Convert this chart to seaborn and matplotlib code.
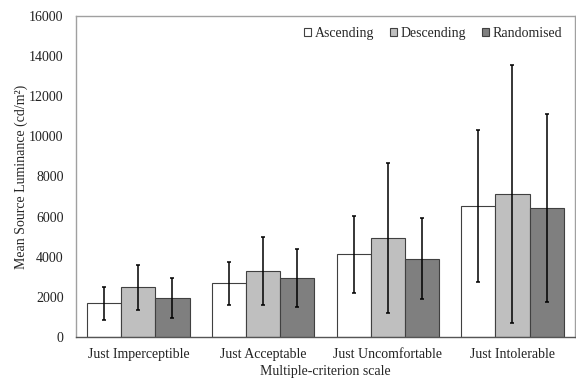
import seaborn as sns
import numpy as np
import pandas as pd
import matplotlib.pyplot as plt

# Mean source luminance per scale level and presentation order
scale = ["Just Imperceptible", "Just Acceptable", "Just Uncomfortable", "Just Intolerable"]
orders = ["Ascending", "Descending", "Randomised"]

ascending = [1680, 2675, 4120, 6530]
descending = [2475, 3305, 4935, 7113]
randomised = [1960, 2940, 3905, 6415]

ascending_sd = [830, 1060, 1920, 3790]
descending_sd = [1130, 1700, 3730, 6430]
randomised_sd = [1000, 1430, 2020, 4690]

means = [ascending, descending, randomised]
sds = [ascending_sd, descending_sd, randomised_sd]

df = pd.DataFrame({
    "scale": scale * 3,
    "order": np.repeat(orders, len(scale)),
    "value": np.concatenate(means),
})

sns.set_style("white")
plt.rcParams["font.family"] = ["Liberation Serif", "DejaVu Serif"]

fig = plt.figure(figsize=(5.76, 3.78), dpi=100)
ax = fig.add_axes([0.132, 0.1085, 0.866, 0.8495])

palette = {"Ascending": "#ffffff", "Descending": "#bfbfbf", "Randomised": "#7f7f7f"}
sns.barplot(data=df, x="scale", y="value", hue="order", order=scale,
            hue_order=orders, palette=palette, errorbar=None,
            width=0.82, edgecolor="#404040", linewidth=0.8, ax=ax)

# Error bars (standard deviation) at each bar centre
for cont, sd in zip(ax.containers, sds):
    xs = [p.get_x() + p.get_width() / 2 for p in cont.patches]
    ys = [p.get_height() for p in cont.patches]
    ax.errorbar(xs, ys, yerr=sd, fmt="none", ecolor="black",
                elinewidth=1.1, capsize=1.5, capthick=1.1, zorder=5)

ax.set_ylim(0, 16000)
ax.set_yticks(np.arange(0, 16001, 2000))
ax.set_xlim(-0.5, 3.5)
ax.tick_params(axis="both", labelsize=10, length=0, colors="#222222")
ax.tick_params(axis="y", pad=9)
ax.tick_params(axis="x", pad=8)
ax.set_ylabel("Mean Source Luminance (cd/m²)", fontsize=10, labelpad=1)
ax.set_xlabel("Multiple-criterion scale", fontsize=10, labelpad=3)

for s in ["left", "top", "right"]:
    ax.spines[s].set_color("#a0a0a0")
    ax.spines[s].set_linewidth(1.0)
ax.spines["bottom"].set_color("#555555")
ax.spines["bottom"].set_linewidth(1.0)

leg = ax.legend(loc="upper right", ncol=3, frameon=False, fontsize=10,
                handlelength=0.55, handleheight=0.55, handletextpad=0.25,
                columnspacing=1.1, borderaxespad=0.4,
                bbox_to_anchor=(0.997, 1.0))

fig.savefig("out.png", dpi=100)
